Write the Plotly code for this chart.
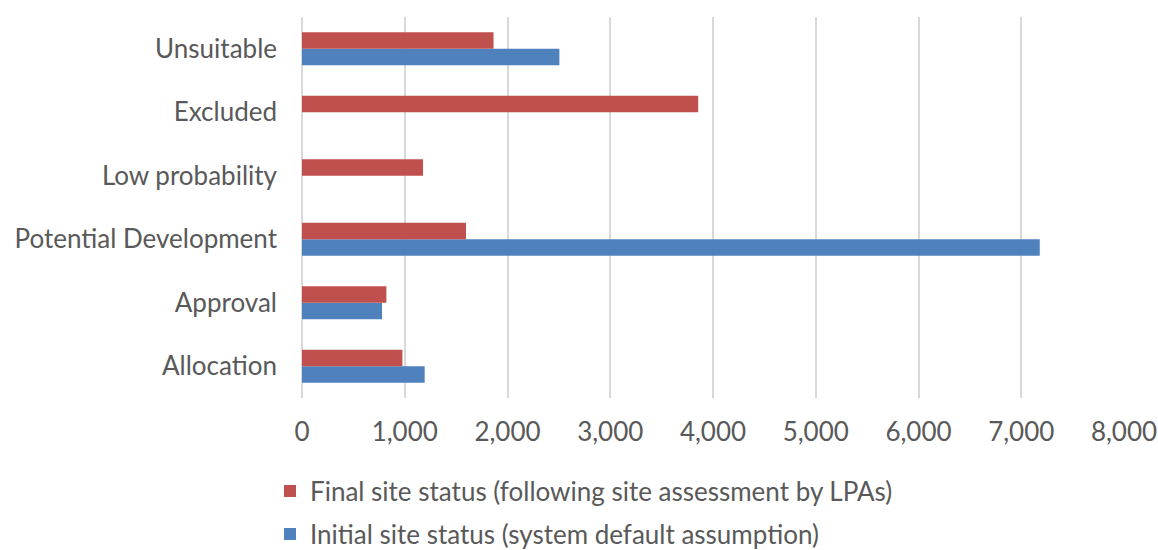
import plotly.graph_objects as go

categories = ["Allocation", "Approval", "Potential Development", "Low probability", "Excluded", "Unsuitable"]
initial_status = [1194, 779, 7180, 0, 0, 2505]
final_status = [977, 821, 1596, 1178, 3856, 1864]
x_ticks = [0, 1000, 2000, 3000, 4000, 5000, 6000, 7000, 8000]
x_tick_labels = ["0", "1,000", "2,000", "3,000", "4,000", "5,000", "6,000", "7,000", "8,000"]

FONT = "Lato"
TXT = "#595959"
FS = 26

fig = go.Figure()
fig.add_trace(go.Bar(
    y=categories, x=initial_status, orientation="h",
    name="Initial site status (system default assumption)",
    marker=dict(color="#4F81BD", line=dict(width=0)),
    legend="legend2",
))
fig.add_trace(go.Bar(
    y=categories, x=final_status, orientation="h",
    name="Final site status (following site assessment by LPAs)",
    marker=dict(color="#C0504D", line=dict(width=0)),
    legend="legend",
))

leg_common = dict(
    orientation="v", xref="container", yref="container",
    x=270/1158, xanchor="left", yanchor="middle",
    font=dict(family=FONT, size=FS, color=TXT),
    bgcolor="rgba(0,0,0,0)", borderwidth=0,
)

fig.update_layout(
    width=1158, height=550,
    margin=dict(l=302, r=34, t=17, b=152, autoexpand=False),
    paper_bgcolor="white", plot_bgcolor="white",
    barmode="group", bargap=0.48, bargroupgap=0,
    font=dict(family=FONT, size=FS, color=TXT),
    showlegend=True,
    legend=dict(leg_common, y=1 - 491/550),
    legend2=dict(leg_common, y=1 - 534/550),
    xaxis=dict(
        range=[0, 8000], tickvals=x_ticks, ticktext=x_tick_labels,
        showgrid=True, gridcolor="#D9D9D9", gridwidth=2,
        zeroline=True, zerolinecolor="#D9D9D9", zerolinewidth=2,
        showline=False, ticks="", tickfont=dict(size=FS, color=TXT),
        tickangle=0, ticklabelstandoff=16, fixedrange=True,
    ),
    yaxis=dict(
        type="category", categoryorder="array", categoryarray=categories,
        showgrid=False, showline=False, ticks="", ticklabelstandoff=24,
        tickfont=dict(size=FS, color=TXT), fixedrange=True,
    ),
)

fig.write_html(
    "out.html",
    config={"displayModeBar": False},
    post_script="document.body.style.margin='0';document.body.style.overflow='hidden';",
)
